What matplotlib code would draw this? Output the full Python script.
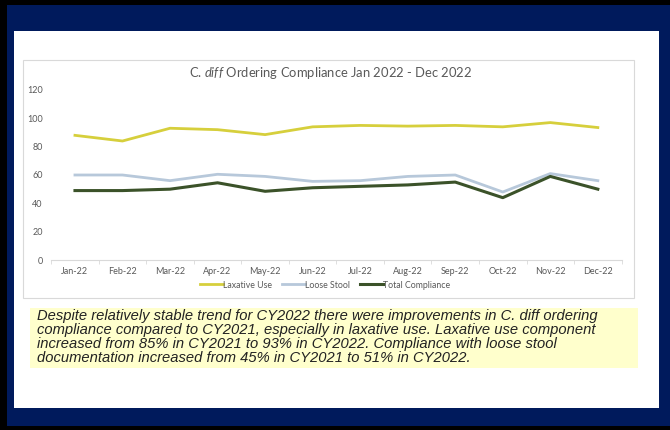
import numpy as np
import matplotlib
matplotlib.use('Agg')
import matplotlib.pyplot as plt
from matplotlib.patches import Rectangle

plt.rcParams['mathtext.fontset'] = 'custom'
plt.rcParams['mathtext.rm'] = 'Lato'
plt.rcParams['mathtext.it'] = 'Lato:italic'

months = ['Jan-22', 'Feb-22', 'Mar-22', 'Apr-22', 'May-22', 'Jun-22',
          'Jul-22', 'Aug-22', 'Sep-22', 'Oct-22', 'Nov-22', 'Dec-22']
laxative = [88, 84, 93, 92, 88.5, 94, 95, 94.5, 95, 94, 97, 93.5]
loose_stool = [60, 60, 56, 60.5, 59, 55.5, 56, 59, 60, 48, 61, 56]
total = [49, 49, 50, 54.5, 48.5, 51, 52, 53, 55, 44, 59, 50]
yticks = [0, 20, 40, 60, 80, 100, 120]

W, H = 670, 430
fig = plt.figure(figsize=(6.7, 4.3), dpi=100)
fig.patch.set_facecolor('black')

def box(x0, y0, x1, y1, **kw):
    # pixel coords, top-left origin; kept behind the axes
    r = Rectangle((x0 / W, 1 - y1 / H), (x1 - x0) / W, (y1 - y0) / H,
                  transform=fig.transFigure, zorder=-5, **kw)
    fig.add_artist(r)
    return r

navy = '#001a5c'
box(7, 5, 670, 426, facecolor=navy, edgecolor='none')
box(14, 31, 659, 408, facecolor='white', edgecolor='none')
box(23, 60, 634, 298, facecolor='white', edgecolor='#d9d9d9', linewidth=0.8)
box(30, 308, 638, 368, facecolor='#ffffcc', edgecolor='none')

ax = fig.add_axes([51.2 / W, 1 - 260 / H, 570.4 / W, 170 / H])
ax.set_facecolor('none')
x = np.arange(len(months))
ax.plot(x, laxative, color='#d6cf3c', lw=2.0, label='Laxative Use')
ax.plot(x, loose_stool, color='#b7c8da', lw=2.0, label='Loose Stool')
ax.plot(x, total, color='#3b5229', lw=2.2, label='Total Compliance')

ax.set_xlim(-0.5, 11.5)
ax.set_ylim(0, 120)
ax.set_yticks(yticks)
ax.set_xticks(x)
ax.set_xticklabels(months)
ax.set_xticks(np.arange(-0.5, 12, 1), minor=True)
for s in ['top', 'right', 'left']:
    ax.spines[s].set_visible(False)
ax.spines['bottom'].set_color('#d9d9d9')
ax.tick_params(axis='both', labelsize=6.5, labelcolor='#595959')
ax.tick_params(axis='y', length=0, pad=6)
ax.tick_params(axis='x', which='major', length=0, pad=5)
ax.tick_params(axis='x', which='minor', length=3, color='#d9d9d9')
for lab in ax.get_xticklabels() + ax.get_yticklabels():
    lab.set_fontfamily('Lato')

fig.text(331 / W, 1 - 73 / H, 'C. $\\mathit{diff}$ Ordering Compliance Jan 2022 - Dec 2022',
         ha='center', va='center', fontsize=9.4, color='#595959', family='Lato')

fig.legend(loc='center', bbox_to_anchor=(325 / W, 1 - 285 / H), ncol=3,
           frameon=False, handlelength=2.6, handletextpad=0.0, columnspacing=1.2,
           prop={'family': 'Lato', 'size': 6.3}, labelcolor='#595959')

note = ('Despite relatively stable trend for CY2022 there were improvements in C. diff ordering\n'
        'compliance compared to CY2021, especially in laxative use. Laxative use component\n'
        'increased from 85% in CY2021 to 93% in CY2022. Compliance with loose stool\n'
        'documentation increased from 45% in CY2021 to 51% in CY2022.')
fig.text(37 / W, 1 - 309 / H, note, ha='left', va='top', fontsize=10.6,
         style='italic', family='Liberation Sans', color='#222222', linespacing=1.0)

fig.savefig('out.png', dpi=100, facecolor=fig.get_facecolor())
